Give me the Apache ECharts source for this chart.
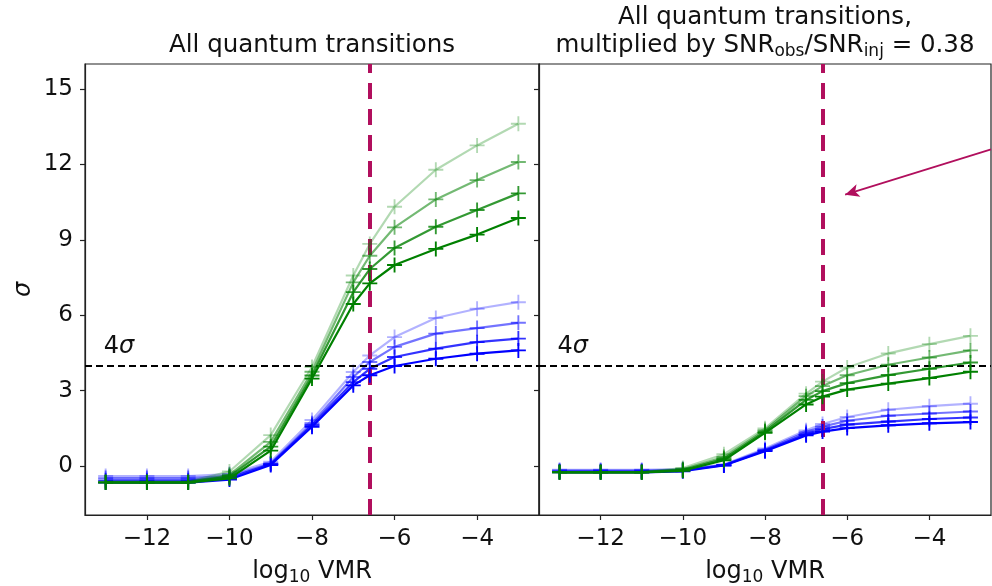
<!DOCTYPE html>
<html><head><meta charset="utf-8">
<script src="https://cdn.jsdelivr.net/npm/echarts@6/dist/echarts.min.js"></script>
<style>html,body{margin:0;padding:0;background:#fff}#c{width:992px;height:586px}</style>
</head><body><div id="c"></div>
<script>
// ---- data ----
const xs = [-13, -12, -11, -10, -9, -8, -7, -6.6, -6, -5, -4, -3];
const xTicks = [-12, -10, -8, -6, -4];
const yTicks = [0, 3, 6, 9, 12, 15];
const vmrLine = -6.6;
const sigmaLine = 4;
// left panel: all quantum transitions (light -> dark)
const leftGreen1 = [-0.62, -0.62, -0.62, -0.22, 1.23, 3.94, 7.58, 8.84, 10.32, 11.79, 12.76, 13.62];
const leftGreen2 = [-0.64, -0.64, -0.64, -0.35, 0.96, 3.75, 7.31, 8.37, 9.50, 10.61, 11.38, 12.10];
const leftGreen3 = [-0.65, -0.65, -0.65, -0.41, 0.77, 3.60, 6.92, 7.84, 8.68, 9.52, 10.19, 10.85];
const leftGreen4 = [-0.66, -0.66, -0.66, -0.49, 0.61, 3.48, 6.45, 7.27, 8.00, 8.64, 9.21, 9.87];
const leftBlue1 = [-0.40, -0.40, -0.40, -0.32, 0.17, 1.83, 3.74, 4.40, 5.13, 5.89, 6.26, 6.52];
const leftBlue2 = [-0.48, -0.48, -0.48, -0.40, 0.10, 1.70, 3.54, 4.14, 4.74, 5.27, 5.49, 5.70];
const leftBlue3 = [-0.57, -0.57, -0.57, -0.47, 0.08, 1.63, 3.34, 3.87, 4.34, 4.67, 4.93, 5.07];
const leftBlue4 = [-0.66, -0.66, -0.66, -0.54, 0.04, 1.56, 3.21, 3.61, 3.98, 4.27, 4.47, 4.60];
// right panel: multiplied by SNR_obs/SNR_inj
const rightGreen1 = [-0.24, -0.24, -0.24, -0.08, 0.47, 1.50, 2.88, 3.36, 3.92, 4.48, 4.85, 5.18];
const rightGreen2 = [-0.24, -0.24, -0.24, -0.13, 0.36, 1.43, 2.78, 3.18, 3.61, 4.03, 4.32, 4.60];
const rightGreen3 = [-0.25, -0.25, -0.25, -0.16, 0.29, 1.37, 2.63, 2.98, 3.30, 3.62, 3.87, 4.12];
const rightGreen4 = [-0.25, -0.25, -0.25, -0.19, 0.23, 1.32, 2.45, 2.76, 3.04, 3.28, 3.50, 3.75];
const rightBlue1 = [-0.15, -0.15, -0.15, -0.12, 0.06, 0.70, 1.42, 1.67, 1.95, 2.24, 2.38, 2.48];
const rightBlue2 = [-0.18, -0.18, -0.18, -0.15, 0.04, 0.65, 1.35, 1.57, 1.80, 2.00, 2.09, 2.17];
const rightBlue3 = [-0.22, -0.22, -0.22, -0.18, 0.03, 0.62, 1.27, 1.47, 1.65, 1.77, 1.87, 1.93];
const rightBlue4 = [-0.25, -0.25, -0.25, -0.21, 0.02, 0.59, 1.22, 1.37, 1.51, 1.62, 1.70, 1.75];
const arrowFrom = [-2.5, 12.6];
const arrowTo = [-6.05, 10.8];

// ---- styling ----
const FONT = 'DejaVu Sans';
const MAG = '#b10f5d';
const PLUS = 'path://M7,0H9V7H16V9H9V16H7V9H0V7H7Z';
const alphas = [0.3, 0.55, 0.8, 1.0];
const minus = v => String(v).replace('-', '\u2212');

const chart = echarts.init(document.getElementById('c'), null, {renderer: 'canvas'});

const grids = [
  {left: 85, top: 64, width: 454, height: 451},
  {left: 539, top: 64, width: 452, height: 451}
];

function xAxis(i) {
  return {
    type: 'value', gridIndex: i, min: -13.5, max: -2.5,
    name: 'log{sub|10} VMR', nameLocation: 'middle', nameGap: 43,
    nameTextStyle: {fontFamily: FONT, fontSize: 24, color: '#111',
      rich: {sub: {fontFamily: FONT, fontSize: 17, color: '#111', verticalAlign: 'bottom', padding: [11, 0, 0, 0]}}},
    axisLine: {show: true, onZero: false, lineStyle: {color: '#222', width: 1.2}},
    axisTick: {show: true, length: 5, customValues: xTicks, lineStyle: {color: '#222', width: 1.2}},
    axisLabel: {show: true, customValues: xTicks, margin: 13, fontFamily: FONT, fontSize: 23, color: '#111', formatter: minus},
    splitLine: {show: false}
  };
}
function yAxis(i) {
  return {
    type: 'value', gridIndex: i, min: -1.95, max: 16.0,
    name: i === 0 ? 'σ' : '', nameLocation: 'middle', nameGap: 49, nameRotate: 90,
    nameTextStyle: {fontFamily: FONT, fontSize: 24, fontStyle: 'italic', color: '#111'},
    axisLine: {show: true, onZero: false, lineStyle: {color: '#222', width: 1.2}},
    axisTick: {show: true, length: 5, customValues: yTicks, lineStyle: {color: '#222', width: 1.2}},
    axisLabel: {show: i === 0, customValues: yTicks, margin: 12, fontFamily: FONT, fontSize: 23, color: '#111', formatter: minus},
    splitLine: {show: false}
  };
}

function mk(vals, rgb, a, gi, z) {
  const col = 'rgba(' + rgb + ',' + a + ')';
  return {
    type: 'line', xAxisIndex: gi, yAxisIndex: gi, z: z,
    data: xs.map((x, k) => [x, vals[k]]),
    symbol: PLUS, symbolSize: 15, showSymbol: true, clip: false,
    lineStyle: {color: col, width: 2.2},
    itemStyle: {color: col},
    emphasis: {disabled: true}, silent: true, animation: false
  };
}

const G = '0,128,0', B = '0,0,255';
const series = [];
const panels = [
  {blue: [leftBlue1, leftBlue2, leftBlue3, leftBlue4], green: [leftGreen1, leftGreen2, leftGreen3, leftGreen4]},
  {blue: [rightBlue1, rightBlue2, rightBlue3, rightBlue4], green: [rightGreen1, rightGreen2, rightGreen3, rightGreen4]}
];
panels.forEach((p, gi) => {
  p.blue.forEach((v, k) => series.push(mk(v, B, alphas[k], gi, 2 + k)));
  p.green.forEach((v, k) => series.push(mk(v, G, alphas[k], gi, 6 + k)));
  const ml = [
    [{xAxis: vmrLine, yAxis: -1.95, symbol: 'none'}, {xAxis: vmrLine, yAxis: 16.0, symbol: 'none', lineStyle: {color: MAG, width: 4, type: [16, 10]}}],
    [{xAxis: -13.5, yAxis: sigmaLine, symbol: 'none'}, {xAxis: -2.5, yAxis: sigmaLine, symbol: 'none', lineStyle: {color: '#000', width: 2, type: [7, 4]}}]
  ];
  if (gi === 1) {
    ml.push([{coord: arrowFrom, symbol: 'none'}, {coord: arrowTo, symbol: 'arrow', symbolSize: [10, 14], lineStyle: {color: MAG, width: 1.8, type: 'solid'}}]);
  }
  series.push({
    type: 'line', xAxisIndex: gi, yAxisIndex: gi, z: 20, data: [], silent: true, animation: false,
    markLine: {silent: true, animation: false, symbol: ['none', 'none'], label: {show: false},
      emphasis: {disabled: true}, data: ml}
  });
});

chart.setOption({
  animation: false,
  backgroundColor: '#fff',
  grid: grids.map(g => Object.assign({show: true, borderColor: '#222', borderWidth: 1.2, backgroundColor: 'transparent',
    containLabel: false, outerBoundsMode: 'none'}, g)),
  xAxis: [xAxis(0), xAxis(1)],
  yAxis: [yAxis(0), yAxis(1)],
  series: series
});

// text annotations
const p0 = chart.convertToPixel({gridIndex: 0}, [-13, 4.5]);
const p1 = chart.convertToPixel({gridIndex: 1}, [-13, 4.5]);
const fourSigma = (p) => ({
  type: 'text', x: p[0] - 2, y: p[1] - 6, z: 30,
  style: {text: '4{s|σ}', font: '24px "DejaVu Sans"', fill: '#111', verticalAlign: 'middle',
    rich: {s: {fontFamily: FONT, fontSize: 24, fontStyle: 'italic', fill: '#111'}}}
});
chart.setOption({
  graphic: [
    fourSigma(p0), fourSigma(p1),
    {type: 'text', x: 312, y: 46, style: {text: 'All quantum transitions', font: '24.5px "DejaVu Sans"', fill: '#111', align: 'center', verticalAlign: 'middle'}},
    {type: 'text', x: 765, y: 18, style: {text: 'All quantum transitions,', font: '24.5px "DejaVu Sans"', fill: '#111', align: 'center', verticalAlign: 'middle'}},
    {type: 'text', x: 765, y: 46, style: {
      text: 'multiplied by SNR{sub|obs}/SNR{sub|inj} = 0.38', font: '24.5px "DejaVu Sans"', fill: '#111', align: 'center', verticalAlign: 'middle',
      rich: {sub: {fontFamily: FONT, fontSize: 17, fill: '#111', verticalAlign: 'bottom', padding: [11, 0, 0, 0]}}}}
  ]
});
</script></body></html>
